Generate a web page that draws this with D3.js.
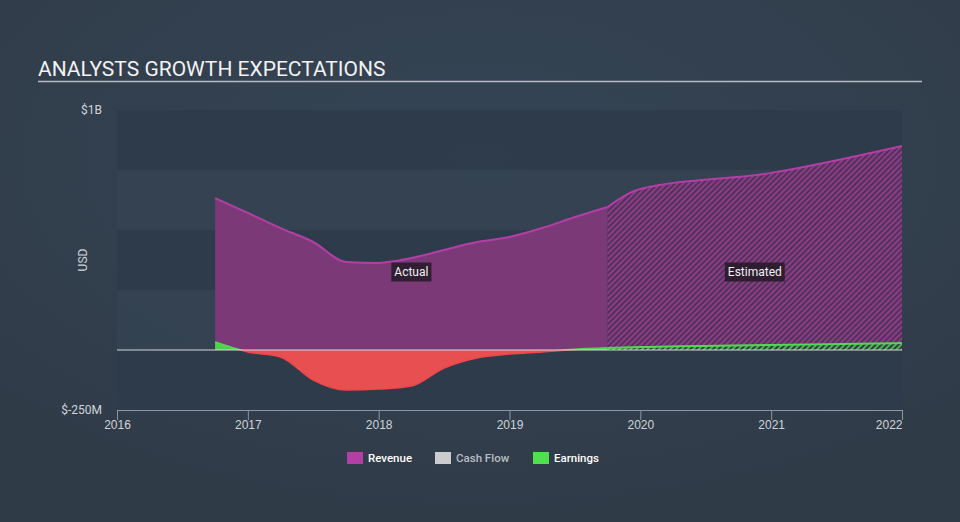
<!DOCTYPE html>
<html><head><meta charset="utf-8">
<script src="https://cdn.jsdelivr.net/npm/d3@7"></script>
<style>
html,body{margin:0;padding:0;background:#333f4e;}
svg{display:block;font-family:Roboto,"Open Sans",sans-serif;}
</style></head>
<body><svg id="c" width="960" height="522"></svg>
<script>
const actualDates   = [2016.75,2017.0,2017.25,2017.5,2017.75,2018.0,2018.25,2018.5,2018.75,2019.0,2019.25,2019.5,2019.75];
const actualRevenue = [633,571,508,450,367,363,383,417,450,471,508,554,596];
const actualEarnings= [33,-8,-29,-125,-167,-163,-150,-75,-33,-17,-8,2,8];
const estDates      = [2019.75,2020.0,2021.0,2022.0];
const estRevenue    = [596,671,738,850];
const estEarnings   = [8,12,21,29];
const yearTicks     = [2016,2017,2018,2019,2020,2021,2022];
const yTickValues   = [1000,-250];
const yTickLabels   = ["$1B","$-250M"];
const legendItems   = ["Revenue","Cash Flow","Earnings"];

const svg = d3.select("#c");
const W=960,H=522;
const L=117,R=902,T=110,B=410;

const defs = svg.append("defs");
const bg = defs.append("radialGradient").attr("id","bg").attr("cx","50%").attr("cy","30%").attr("r","70%");
bg.append("stop").attr("offset","0%").attr("stop-color","#354555");
bg.append("stop").attr("offset","100%").attr("stop-color","#303b48");
svg.append("rect").attr("width",W).attr("height",H).attr("fill","url(#bg)");

const x = d3.scaleLinear().domain([2016,2022]).range([L,R]);
const y = d3.scaleLinear().domain([-250,1000]).range([B,T]);

const bandEdges = [1000,750,500,250,0,-250];
for(let i=0;i<bandEdges.length-1;i++){
  svg.append("rect").attr("x",L).attr("width",R-L)
    .attr("y",y(bandEdges[i])).attr("height",y(bandEdges[i+1])-y(bandEdges[i]))
    .attr("fill", i%2===0 ? "#2e3b4a" : "#344352").attr("opacity",0.9);
}

const pr = defs.append("pattern").attr("id","hatchR").attr("patternUnits","userSpaceOnUse")
  .attr("width",4).attr("height",4).attr("patternTransform","rotate(45)");
pr.append("rect").attr("width",4).attr("height",4).attr("fill","#523358");
pr.append("rect").attr("width",2).attr("height",4).attr("fill","#8c3b89");
const pe = defs.append("pattern").attr("id","hatchE").attr("patternUnits","userSpaceOnUse")
  .attr("width",4).attr("height",4).attr("patternTransform","rotate(45)");
pe.append("rect").attr("width",4).attr("height",4).attr("fill","#2e3b4a");
pe.append("rect").attr("width",2).attr("height",4).attr("fill","#4fb54f");

defs.append("clipPath").attr("id","above").append("rect").attr("x",0).attr("y",0).attr("width",W).attr("height",y(0));
defs.append("clipPath").attr("id","below").append("rect").attr("x",0).attr("y",y(0)).attr("width",W).attr("height",H);

const curve = d3.curveMonotoneX;
const zip = (ds,vs)=>ds.map((d,i)=>({d,v:vs[i]}));
const area = d3.area().x(p=>x(p.d)).y0(y(0)).y1(p=>y(p.v)).curve(curve);
const line = d3.line().x(p=>x(p.d)).y(p=>y(p.v)).curve(curve);

const aRev = zip(actualDates,actualRevenue), eRev = zip(estDates,estRevenue);
const aEar = zip(actualDates,actualEarnings), eEar = zip(estDates,estEarnings);

svg.append("path").attr("d",area(aRev)).attr("fill","#7b3a77");
svg.append("path").attr("d",area(eRev)).attr("fill","url(#hatchR)");
svg.append("path").attr("d",line(aRev)).attr("fill","none").attr("stroke","#b23fa6").attr("stroke-width",2);
svg.append("path").attr("d",line(eRev)).attr("fill","none").attr("stroke","#b23fa6").attr("stroke-width",2);

svg.append("path").attr("d",area(aEar)).attr("fill","#e84f51").attr("clip-path","url(#below)");
svg.append("path").attr("d",line(aEar)).attr("fill","none").attr("stroke","#f0474b").attr("stroke-width",1.5).attr("clip-path","url(#below)");
svg.append("path").attr("d",area(aEar)).attr("fill","#4fd14f").attr("clip-path","url(#above)");
svg.append("path").attr("d",area(eEar)).attr("fill","url(#hatchE)");
svg.append("path").attr("d",line(aEar)).attr("fill","none").attr("stroke","#52d852").attr("stroke-width",2).attr("clip-path","url(#above)");
svg.append("path").attr("d",line(eEar)).attr("fill","none").attr("stroke","#52d852").attr("stroke-width",2);

svg.append("line").attr("x1",L).attr("x2",R).attr("y1",y(0)).attr("y2",y(0)).attr("stroke","#d8d8d8").attr("stroke-width",1);

const xAxis = d3.axisBottom(x).tickValues(yearTicks).tickFormat(d3.format("d")).tickSize(10).tickSizeOuter(0);
const gx = svg.append("g").attr("transform",`translate(0,${B})`).call(xAxis);
gx.select(".domain").attr("stroke","#8a96a3");
gx.selectAll(".tick line").attr("stroke","#8a96a3");
gx.selectAll(".tick text").attr("fill","#d0d4d8").attr("font-size",12).attr("dy","0.5em");
gx.selectAll(".tick text").filter(d=>d===2022).attr("text-anchor","end");

svg.selectAll(".ylab").data(yTickValues).enter().append("text")
  .attr("x",102).attr("y",d=>y(d)+4).attr("text-anchor","end")
  .attr("fill","#d0d4d8").attr("font-size",12).text((d,i)=>yTickLabels[i]);
svg.append("text").attr("transform",`translate(87,${(T+B)/2}) rotate(-90)`)
  .attr("text-anchor","middle").attr("fill","#d0d4d8").attr("font-size",12).text("USD");

svg.append("text").attr("x",38).attr("y",76).attr("fill","#f2f2f2").attr("font-size",21).text("ANALYSTS GROWTH EXPECTATIONS");
svg.append("line").attr("x1",38).attr("x2",922).attr("y1",81.5).attr("y2",81.5).attr("stroke","#b8bcc2").attr("stroke-width",1.5);

function tag(cx,cy,txt){
  const t = svg.append("text").attr("x",cx).attr("y",cy+4).attr("text-anchor","middle")
    .attr("fill","#f0f0f0").attr("font-size",12).text(txt);
  const bb = t.node().getBBox();
  svg.insert("rect",()=>t.node()).attr("x",bb.x-3).attr("y",cy-9.5).attr("width",bb.width+6).attr("height",19)
    .attr("fill","#241a26").attr("opacity",0.85);
}
tag((x(actualDates[0])+x(actualDates[actualDates.length-1]))/2,272,"Actual");
tag((x(estDates[0])+x(estDates[estDates.length-1]))/2,272,"Estimated");

const legColors = ["#b23fa6","#cccccc","#4fe04f"];
const legText = ["#ffffff","#b9bec4","#ffffff"];
const legX = [347,435,533];
legendItems.forEach((n,i)=>{
  svg.append("rect").attr("x",legX[i]).attr("y",452).attr("width",16).attr("height",12).attr("fill",legColors[i]);
  svg.append("text").attr("x",legX[i]+21).attr("y",462).attr("fill",legText[i]).attr("font-size",11.5).attr("font-weight",500).text(n);
});
</script></body></html>
